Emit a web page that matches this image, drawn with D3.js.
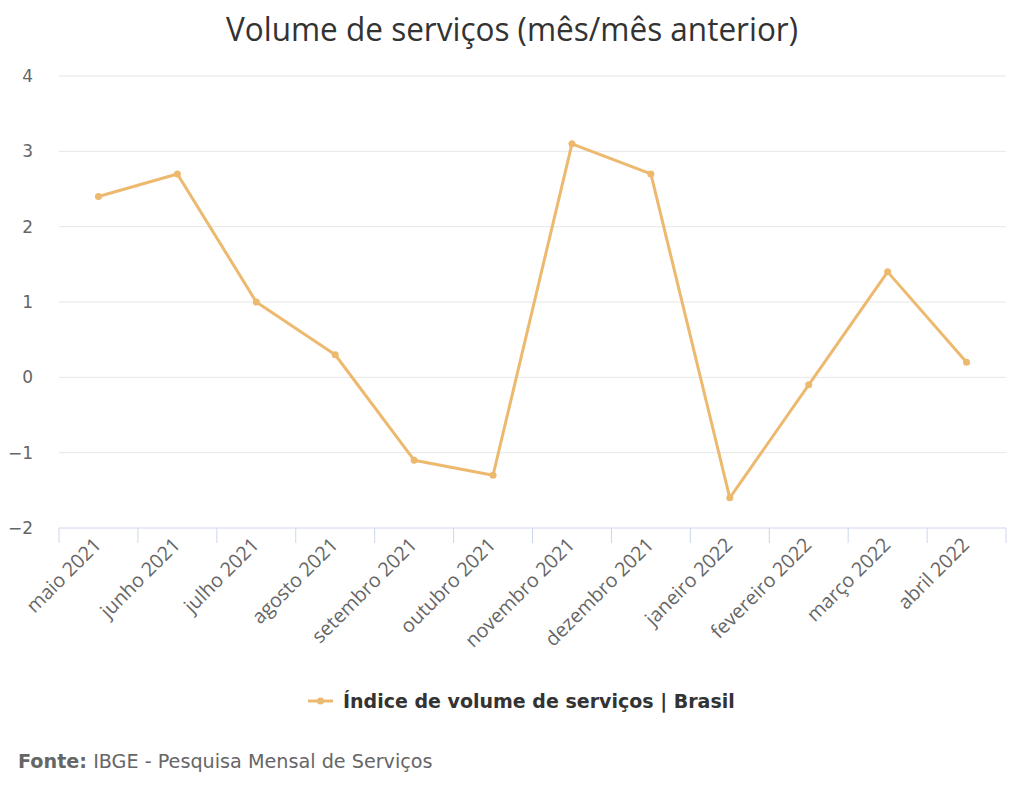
<!DOCTYPE html>
<html><head><meta charset="utf-8">
<script src="https://cdn.jsdelivr.net/npm/d3@7"></script>
<style>body{margin:0;background:#fff;}svg{display:block;}</style>
</head><body>
<svg id="c" width="1024" height="793"></svg>
<script>
const categories = ["maio 2021","junho 2021","julho 2021","agosto 2021","setembro 2021","outubro 2021","novembro 2021","dezembro 2021","janeiro 2022","fevereiro 2022","março 2022","abril 2022"];
const values = [2.4, 2.7, 1.0, 0.3, -1.1, -1.3, 3.1, 2.7, -1.6, -0.1, 1.4, 0.2];
const yTicks = [-2, -1, 0, 1, 2, 3, 4];
const title = "Volume de serviços (mês/mês anterior)";
const seriesName = "Índice de volume de serviços | Brasil";

const svg = d3.select("#c");
const color = "#ecb96f";
const x = d3.scaleBand().domain(categories).range([59, 1006]);
const y = d3.scaleLinear().domain([-2, 4]).range([528, 76]);

svg.append("text").attr("x", 512).attr("y", 41).attr("text-anchor", "middle")
  .attr("font-family", "Open Sans").attr("font-size", 33).attr("fill", "#333")
  .attr("transform", "translate(512,0) scale(0.955,1) translate(-512,0)")
  .text(title);

// grid
svg.append("g").selectAll("line").data(yTicks.filter(d => d > -2)).join("line")
  .attr("x1", 59).attr("x2", 1006).attr("y1", d => y(d)).attr("y2", d => y(d))
  .attr("stroke", "#e6e6e6").attr("stroke-width", 1);

// y labels
svg.append("g").selectAll("text").data(yTicks).join("text")
  .attr("x", 33).attr("y", d => y(d) + 6).attr("text-anchor", "end")
  .attr("font-family", "DejaVu Sans").attr("font-size", 17).attr("fill", "#666")
  .text(d => d < 0 ? "\u2212" + Math.abs(d) : d);

// x axis
const xAxis = svg.append("g").attr("transform", `translate(0,${y(-2)})`);
xAxis.append("line").attr("x1", 59).attr("x2", 1006).attr("stroke", "#ccd6eb");
const edges = categories.map(c => x(c)).concat([x.range()[1]]);
xAxis.selectAll("line.t").data(edges).join("line").attr("class", "t")
  .attr("x1", d => d).attr("x2", d => d).attr("y1", 0).attr("y2", 15).attr("stroke", "#ccd6eb");
xAxis.selectAll("text").data(categories).join("text")
  .attr("text-anchor", "end").attr("font-family", "Open Sans").attr("font-size", 19.7).attr("fill", "#666")
  .attr("transform", c => `translate(${x(c) + x.bandwidth() / 2 + 4},${18}) rotate(-45)`)
  .text(c => c);

// line
const line = d3.line().x((d, i) => x(categories[i]) + x.bandwidth() / 2).y(d => y(d));
svg.append("path").datum(values).attr("d", line).attr("fill", "none")
  .attr("stroke", color).attr("stroke-width", 3).attr("stroke-linejoin", "round");
svg.append("g").selectAll("circle").data(values).join("circle")
  .attr("cx", (d, i) => x(categories[i]) + x.bandwidth() / 2).attr("cy", d => y(d))
  .attr("r", 3.5).attr("fill", color);

// legend
const lg = svg.append("g").attr("transform", "translate(308,701)");
lg.append("line").attr("x1", 0).attr("x2", 25).attr("stroke", color).attr("stroke-width", 3);
lg.append("circle").attr("cx", 12.5).attr("r", 3.5).attr("fill", color);
lg.append("text").attr("x", 35).attr("y", 7).attr("font-family", "DejaVu Sans").attr("font-weight", "bold")
  .attr("font-size", 19).attr("fill", "#333").text(seriesName);

// footer
const ft = svg.append("text").attr("x", 18).attr("y", 768).attr("font-family", "DejaVu Sans")
  .attr("font-size", 19.2).attr("fill", "#666");
ft.append("tspan").attr("font-weight", "bold").text("Fonte:");
ft.append("tspan").text(" IBGE - Pesquisa Mensal de Serviços");
</script>
</body></html>
